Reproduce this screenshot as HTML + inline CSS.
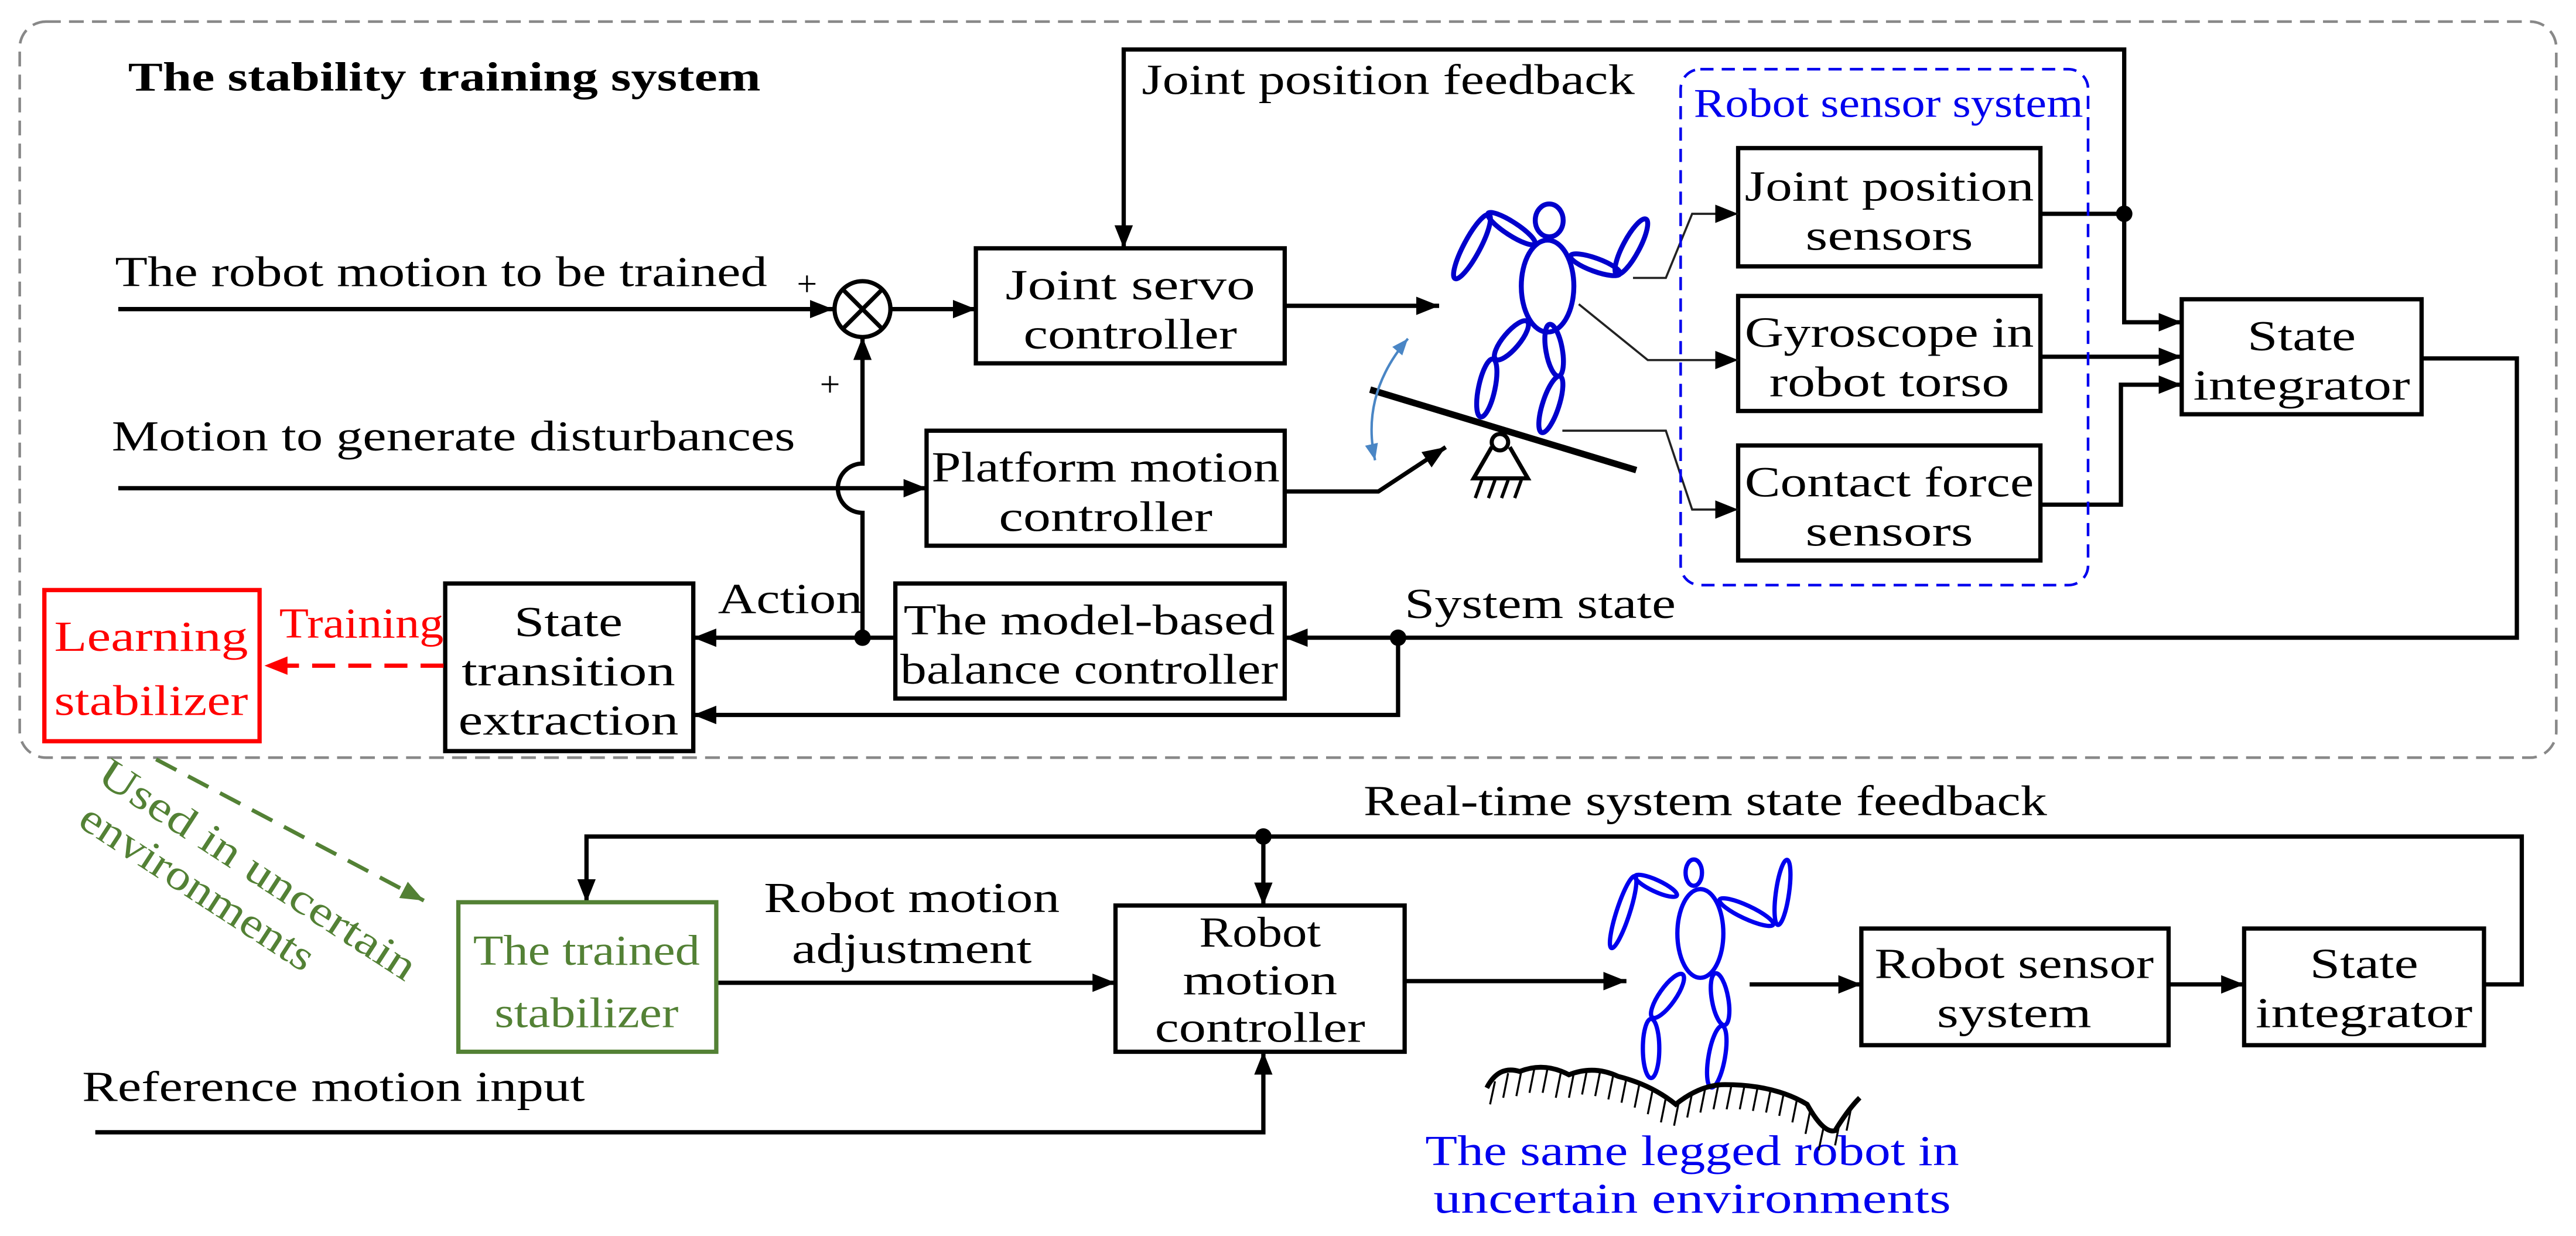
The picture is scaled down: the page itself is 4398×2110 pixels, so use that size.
<!DOCTYPE html>
<html><head><meta charset="utf-8"><style>
html,body{margin:0;padding:0;background:#fff}
svg{display:block}
</style></head><body>
<svg width="4398" height="2110" viewBox="0 0 1568 752" xmlns="http://www.w3.org/2000/svg" font-family="'Liberation Serif', serif" font-size="26">
<defs>
<marker id="ab" viewBox="0 0 10 10" refX="10" refY="5" markerWidth="14" markerHeight="14" orient="auto" markerUnits="userSpaceOnUse"><path d="M0,1 L10,5 L0,9 z" fill="#000"/></marker>
<marker id="ar" viewBox="0 0 10 10" refX="10" refY="5" markerWidth="14" markerHeight="14" orient="auto" markerUnits="userSpaceOnUse"><path d="M0,1 L10,5 L0,9 z" fill="#f00"/></marker>
<marker id="ag" viewBox="0 0 10 10" refX="10" refY="5" markerWidth="14" markerHeight="14" orient="auto" markerUnits="userSpaceOnUse"><path d="M0,1 L10,5 L0,9 z" fill="#538135"/></marker>
<marker id="al" viewBox="0 0 10 10" refX="10" refY="5" markerWidth="10" markerHeight="10" orient="auto-start-reverse" markerUnits="userSpaceOnUse"><path d="M0,1 L10,5 L0,9 z" fill="#4a86c5"/></marker>
</defs>

<rect x="12" y="13" width="1544" height="448" rx="16" fill="none" stroke="#888" stroke-width="1.6" stroke-dasharray="9,5"/>
<text x="78" y="55" font-weight="bold" font-size="25" textLength="385" lengthAdjust="spacingAndGlyphs">The stability training system</text>

<g fill="none" stroke="#000" stroke-width="2.6">
<rect x="594" y="151" width="188" height="70"/>
<rect x="564" y="262" width="218" height="70"/>
<rect x="545" y="355" width="237" height="70"/>
<rect x="271" y="355" width="151" height="102"/>
<rect x="1058" y="90" width="184" height="72"/>
<rect x="1058" y="180" width="184" height="70"/>
<rect x="1058" y="271" width="184" height="70"/>
<rect x="1328" y="182" width="146" height="70"/>
<circle cx="525" cy="188" r="17"/>
<line x1="513" y1="176" x2="537" y2="200"/><line x1="537" y1="176" x2="513" y2="200"/>
<line x1="72" y1="188" x2="507" y2="188" marker-end="url(#ab)"/>
<line x1="542" y1="188" x2="594" y2="188" marker-end="url(#ab)"/>
<line x1="72" y1="297" x2="564" y2="297" marker-end="url(#ab)"/>
<path d="M525,388 L525,312 A15,15 0 0 1 525,282 L525,205" marker-end="url(#ab)"/>
<path d="M1293,130 L1293,30 L684,30 L684,151" marker-end="url(#ab)"/>
<path d="M1242,130 L1293,130 L1293,196 L1328,196" marker-end="url(#ab)"/>
<line x1="1242" y1="217" x2="1328" y2="217" marker-end="url(#ab)"/>
<path d="M1242,307 L1291,307 L1291,234 L1328,234" marker-end="url(#ab)"/>
<line x1="782" y1="186" x2="876" y2="186" marker-end="url(#ab)"/>
<path d="M782,299 L839,299 L880,272" marker-end="url(#ab)"/>
<path d="M1474,218 L1532,218 L1532,388 L782,388" marker-end="url(#ab)"/>
<path d="M851,388 L851,435 L422,435" marker-end="url(#ab)"/>
<line x1="545" y1="388" x2="422" y2="388" marker-end="url(#ab)"/>
</g>
<circle cx="1293" cy="130" r="5"/>
<circle cx="851" cy="388" r="5"/>
<circle cx="525" cy="388" r="5"/>

<g fill="none" stroke="#222" stroke-width="1.3">
<path d="M994,169 L1014,169 L1030,130 L1058,130" marker-end="url(#ab)"/>
<path d="M961,185 L1003,219 L1058,219" marker-end="url(#ab)"/>
<path d="M951,262 L1014,262 L1030,310 L1058,310" marker-end="url(#ab)"/>
</g>

<line x1="834" y1="237" x2="996" y2="286" stroke="#000" stroke-width="4"/>
<circle cx="913" cy="269" r="5" fill="#fff" stroke="#000" stroke-width="2.5"/>
<path d="M908,272 L897,291 L930,291 L919,272" fill="none" stroke="#000" stroke-width="2.5"/>
<g stroke="#000" stroke-width="2"><line x1="902" y1="292" x2="898" y2="303"/><line x1="910" y1="292" x2="906" y2="303"/><line x1="918" y1="292" x2="914" y2="303"/><line x1="926" y1="292" x2="922" y2="303"/></g>
<path d="M857,206 Q828,240 837,280" fill="none" stroke="#4a86c5" stroke-width="1.5" marker-start="url(#al)" marker-end="url(#al)"/>

<g fill="none" stroke="#0000cc" stroke-width="3">
<ellipse cx="943" cy="134" rx="8.5" ry="10"/>
<ellipse cx="942" cy="174" rx="16" ry="28"/>
<ellipse cx="920" cy="139" rx="17" ry="4" transform="rotate(33 920 139)"/>
<ellipse cx="896" cy="150" rx="22" ry="5" transform="rotate(-62 896 150)"/>
<ellipse cx="971" cy="161" rx="16" ry="4" transform="rotate(20 971 161)"/>
<ellipse cx="993" cy="150" rx="19" ry="5" transform="rotate(-62 993 150)"/>
<ellipse cx="920" cy="207" rx="15" ry="5" transform="rotate(-50 920 207)"/>
<ellipse cx="905" cy="236" rx="18" ry="5" transform="rotate(-78 905 236)"/>
<ellipse cx="946" cy="213" rx="16" ry="5" transform="rotate(80 946 213)"/>
<ellipse cx="944" cy="246" rx="18" ry="5" transform="rotate(-72 944 246)"/>
</g>

<rect x="1023" y="42" width="248" height="314" rx="12" fill="none" stroke="#0000ee" stroke-width="1.6" stroke-dasharray="8,5"/>
<text x="1031" y="71" fill="#0000ee" font-size="25" textLength="237" lengthAdjust="spacingAndGlyphs">Robot sensor system</text>

<text x="695" y="57" textLength="300" lengthAdjust="spacingAndGlyphs">Joint position feedback</text>
<text x="70" y="174" textLength="397" lengthAdjust="spacingAndGlyphs">The robot motion to be trained</text>
<text x="68" y="274" textLength="416" lengthAdjust="spacingAndGlyphs">Motion to generate disturbances</text>
<text x="485" y="180" font-size="22">+</text>
<text x="499" y="241" font-size="22">+</text>
<g text-anchor="middle">
<text x="688" y="182" textLength="152" lengthAdjust="spacingAndGlyphs">Joint servo</text><text x="688" y="212" textLength="130" lengthAdjust="spacingAndGlyphs">controller</text>
<text x="673" y="293" textLength="212" lengthAdjust="spacingAndGlyphs">Platform motion</text><text x="673" y="323" textLength="130" lengthAdjust="spacingAndGlyphs">controller</text>
<text x="663" y="386" textLength="226" lengthAdjust="spacingAndGlyphs">The model-based</text><text x="663" y="416" textLength="230" lengthAdjust="spacingAndGlyphs">balance controller</text>
<text x="346" y="387" textLength="66" lengthAdjust="spacingAndGlyphs">State</text><text x="346" y="417" textLength="130" lengthAdjust="spacingAndGlyphs">transition</text><text x="346" y="447" textLength="134" lengthAdjust="spacingAndGlyphs">extraction</text>
<text x="1150" y="122" textLength="176" lengthAdjust="spacingAndGlyphs">Joint position</text><text x="1150" y="152" textLength="102" lengthAdjust="spacingAndGlyphs">sensors</text>
<text x="1150" y="211" textLength="176" lengthAdjust="spacingAndGlyphs">Gyroscope in</text><text x="1150" y="241" textLength="146" lengthAdjust="spacingAndGlyphs">robot torso</text>
<text x="1150" y="302" textLength="176" lengthAdjust="spacingAndGlyphs">Contact force</text><text x="1150" y="332" textLength="102" lengthAdjust="spacingAndGlyphs">sensors</text>
<text x="1401" y="213" textLength="66" lengthAdjust="spacingAndGlyphs">State</text><text x="1401" y="243" textLength="132" lengthAdjust="spacingAndGlyphs">integrator</text>
</g>
<text x="437" y="373" textLength="88" lengthAdjust="spacingAndGlyphs">Action</text>
<text x="855" y="376" textLength="165" lengthAdjust="spacingAndGlyphs">System state</text>

<rect x="27" y="359" width="131" height="92" fill="none" stroke="#f00" stroke-width="2.6"/>
<g text-anchor="middle" fill="#f00"><text x="92" y="396" textLength="118" lengthAdjust="spacingAndGlyphs">Learning</text><text x="92" y="435" textLength="118" lengthAdjust="spacingAndGlyphs">stabilizer</text></g>
<text x="170" y="388" fill="#f00" textLength="100" lengthAdjust="spacingAndGlyphs">Training</text>
<line x1="270" y1="405" x2="161" y2="405" stroke="#f00" stroke-width="2.6" stroke-dasharray="14,8" marker-end="url(#ar)"/>

<line x1="95" y1="462" x2="258" y2="548" stroke="#538135" stroke-width="2.4" stroke-dasharray="14,8" marker-end="url(#ag)"/>
<g transform="translate(58,475) rotate(33)" fill="#538135">
<text x="0" y="0" textLength="225" lengthAdjust="spacingAndGlyphs">Used in uncertain</text>
<text x="5" y="29" textLength="165" lengthAdjust="spacingAndGlyphs">environments</text>
</g>

<g fill="none" stroke="#000" stroke-width="2.6">
<rect x="679" y="551" width="176" height="89"/>
<rect x="1133" y="565" width="187" height="71"/>
<rect x="1366" y="565" width="146" height="71"/>
<path d="M1512,599 L1535,599 L1535,509 L357,509 L357,549" marker-end="url(#ab)"/>
<line x1="769" y1="509" x2="769" y2="551" marker-end="url(#ab)"/>
<line x1="436" y1="598" x2="679" y2="598" marker-end="url(#ab)"/>
<line x1="855" y1="597" x2="990" y2="597" marker-end="url(#ab)"/>
<line x1="1065" y1="599" x2="1133" y2="599" marker-end="url(#ab)"/>
<line x1="1320" y1="599" x2="1366" y2="599" marker-end="url(#ab)"/>
<path d="M58,689 L769,689 L769,640" marker-end="url(#ab)"/>
</g>
<circle cx="769" cy="509" r="5"/>
<rect x="279" y="549" width="157" height="91" fill="none" stroke="#538135" stroke-width="2.6"/>
<g text-anchor="middle">
<text x="357" y="587" fill="#538135" textLength="138" lengthAdjust="spacingAndGlyphs">The trained</text><text x="357" y="625" fill="#538135" textLength="112" lengthAdjust="spacingAndGlyphs">stabilizer</text>
<text x="767" y="576" textLength="74" lengthAdjust="spacingAndGlyphs">Robot</text><text x="767" y="605" textLength="94" lengthAdjust="spacingAndGlyphs">motion</text><text x="767" y="634" textLength="128" lengthAdjust="spacingAndGlyphs">controller</text>
<text x="555" y="555" textLength="180" lengthAdjust="spacingAndGlyphs">Robot motion</text><text x="555" y="586" textLength="146" lengthAdjust="spacingAndGlyphs">adjustment</text>
<text x="1226" y="595" textLength="170" lengthAdjust="spacingAndGlyphs">Robot sensor</text><text x="1226" y="625" textLength="94" lengthAdjust="spacingAndGlyphs">system</text>
<text x="1439" y="595" textLength="66" lengthAdjust="spacingAndGlyphs">State</text><text x="1439" y="625" textLength="132" lengthAdjust="spacingAndGlyphs">integrator</text>
<text x="1030" y="709" fill="#0000ee" textLength="325" lengthAdjust="spacingAndGlyphs">The same legged robot in</text>
<text x="1030" y="738" fill="#0000ee" textLength="315" lengthAdjust="spacingAndGlyphs">uncertain environments</text>
</g>
<text x="830" y="496" textLength="416" lengthAdjust="spacingAndGlyphs">Real-time system state feedback</text>
<text x="50" y="670" textLength="306" lengthAdjust="spacingAndGlyphs">Reference motion input</text>

<g fill="none" stroke="#0000ee" stroke-width="2.6">
<ellipse cx="1031" cy="531" rx="5" ry="8"/>
<ellipse cx="1035" cy="568" rx="14" ry="27"/>
<ellipse cx="1008" cy="539" rx="14" ry="3.5" transform="rotate(25 1008 539)"/>
<ellipse cx="988" cy="555" rx="23" ry="4" transform="rotate(-72 988 555)"/>
<ellipse cx="1063" cy="555" rx="18" ry="4" transform="rotate(25 1063 555)"/>
<ellipse cx="1085" cy="543" rx="20" ry="4" transform="rotate(-82 1085 543)"/>
<ellipse cx="1015" cy="606" rx="16" ry="5" transform="rotate(-55 1015 606)"/>
<ellipse cx="1005" cy="638" rx="18" ry="5" transform="rotate(90 1005 638)"/>
<ellipse cx="1047" cy="608" rx="16" ry="5" transform="rotate(80 1047 608)"/>
<ellipse cx="1045" cy="643" rx="19" ry="5" transform="rotate(100 1045 643)"/>
</g>
<path d="M905,662 Q912,648 925,652 Q940,646 955,654 Q970,648 985,655 Q1005,660 1020,672 Q1035,660 1050,660 Q1080,660 1100,672 Q1110,690 1117,688 Q1125,675 1132,668" fill="none" stroke="#000" stroke-width="3"/>
<g stroke="#000" stroke-width="1.2">
<line x1="910" y1="658" x2="907" y2="672"/><line x1="918" y1="653" x2="915" y2="668"/><line x1="926" y1="652" x2="923" y2="667"/><line x1="934" y1="650" x2="931" y2="665"/><line x1="942" y1="650" x2="939" y2="665"/><line x1="950" y1="653" x2="947" y2="668"/><line x1="958" y1="653" x2="955" y2="668"/><line x1="966" y1="651" x2="963" y2="666"/><line x1="974" y1="652" x2="971" y2="667"/><line x1="982" y1="654" x2="979" y2="669"/><line x1="990" y1="656" x2="987" y2="671"/><line x1="998" y1="659" x2="995" y2="674"/><line x1="1006" y1="663" x2="1003" y2="678"/><line x1="1014" y1="668" x2="1011" y2="683"/><line x1="1022" y1="670" x2="1019" y2="685"/><line x1="1030" y1="665" x2="1027" y2="680"/><line x1="1038" y1="662" x2="1035" y2="677"/><line x1="1046" y1="660" x2="1043" y2="675"/><line x1="1054" y1="660" x2="1051" y2="675"/><line x1="1062" y1="660" x2="1059" y2="675"/><line x1="1070" y1="661" x2="1067" y2="676"/><line x1="1078" y1="662" x2="1075" y2="677"/><line x1="1086" y1="664" x2="1083" y2="679"/><line x1="1094" y1="668" x2="1091" y2="683"/><line x1="1102" y1="675" x2="1099" y2="690"/><line x1="1110" y1="686" x2="1107" y2="700"/><line x1="1120" y1="682" x2="1117" y2="697"/><line x1="1127" y1="673" x2="1124" y2="688"/>
</g>
</svg>
</body></html>
